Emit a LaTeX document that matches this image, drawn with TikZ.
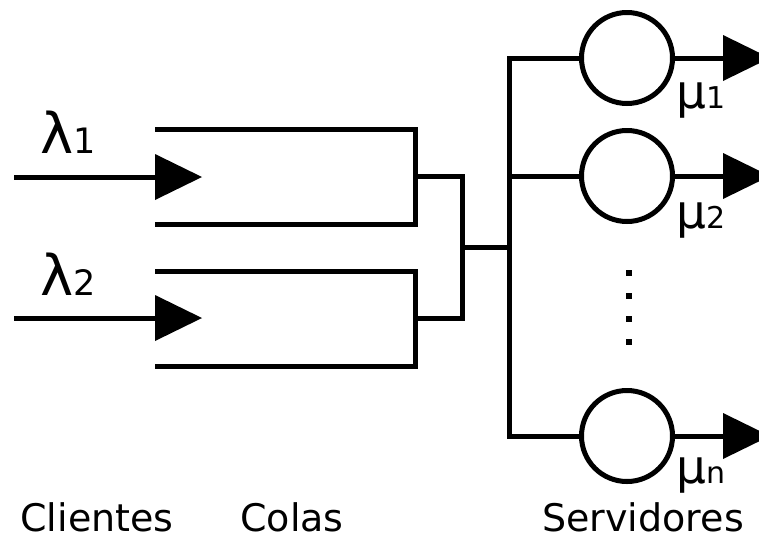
\documentclass[tikz,border=0pt]{standalone}
\usepackage{fontspec}
\setmainfont{DejaVu Sans}
\usetikzlibrary{
arrows.meta,
positioning,
}
\tikzset{
server/.style={circle, draw, minimum size=91pt, inner sep=0pt},
rate/.style={inner sep=0pt, anchor=base west},
stage/.style={inner sep=0pt, anchor=base, font=\fontsize{38}{38}\selectfont},
>={Triangle[length=47pt,width=46pt,line width=0pt]},
}

\begin{document}
\begin{tikzpicture}[x=1pt, y=-1pt, line width=5pt]
\clip (0,0) rectangle (759,539);
% queues (open on the left)
\draw (155,129) -| (415,224) -- (155,224);
\draw (155,271) -| (415,366) -- (155,366);
\coordinate (q1) at (415,176);
\coordinate (q2) at (415,318);
\coordinate (join) at (462,247);
\coordinate (bus) at (509,247);
% arrivals
\coordinate (in1) at (14,177);
\coordinate (in2) at (14,318);
\coordinate (head1) at (202,177);
\coordinate (head2) at (202,318);
\draw[->] (in1) -- (head1);
\draw[->] (in2) -- (head2);
% servers
\node (s1) [server] at (627,58) {};
\node (s2) [server] at (627,176) {};
\node (sn) [server] at (627,436) {};
\coordinate (out1) at (770,58);
\coordinate (out2) at (770,176);
\coordinate (outn) at (770,436);
\draw[->] (s1) -- (out1);
\draw[->] (s2) -- (out2);
\draw[->] (sn) -- (outn);
% dispatcher
\draw (q1) -| (join) |- (q2);
\draw (join) -- (bus);
\draw (s1) -| (bus) |- (sn);
\draw (bus) |- (s2);
\foreach \y in {273,296,319,342}
    \fill (629,\y) +(-3,-3) rectangle +(3,3);
% rates
\node (l1) [rate] at (38,153) {{\fontsize{56}{56}\selectfont λ}{\fontsize{35}{35}\selectfont 1}};
\node (l2) [rate] at (38,295) {{\fontsize{56}{56}\selectfont λ}{\fontsize{35}{35}\selectfont 2}};
\node (m1) [rate] at (674,108) {{\fontsize{47}{47}\selectfont μ}{\fontsize{30}{30}\selectfont 1}};
\node (m2) [rate] at (674,228) {{\fontsize{47}{47}\selectfont μ}{\fontsize{30}{30}\selectfont 2}};
\node (mn) [rate] at (674,483) {{\fontsize{47}{47}\selectfont μ}{\fontsize{30}{30}\selectfont n}};
% captions
\node (cli) [stage] at (97,531) {Clientes};
\node (col) [stage] at (292,531) {Colas};
\node (ser) [stage] at (643,531) {Servidores};
\end{tikzpicture}
\end{document}
